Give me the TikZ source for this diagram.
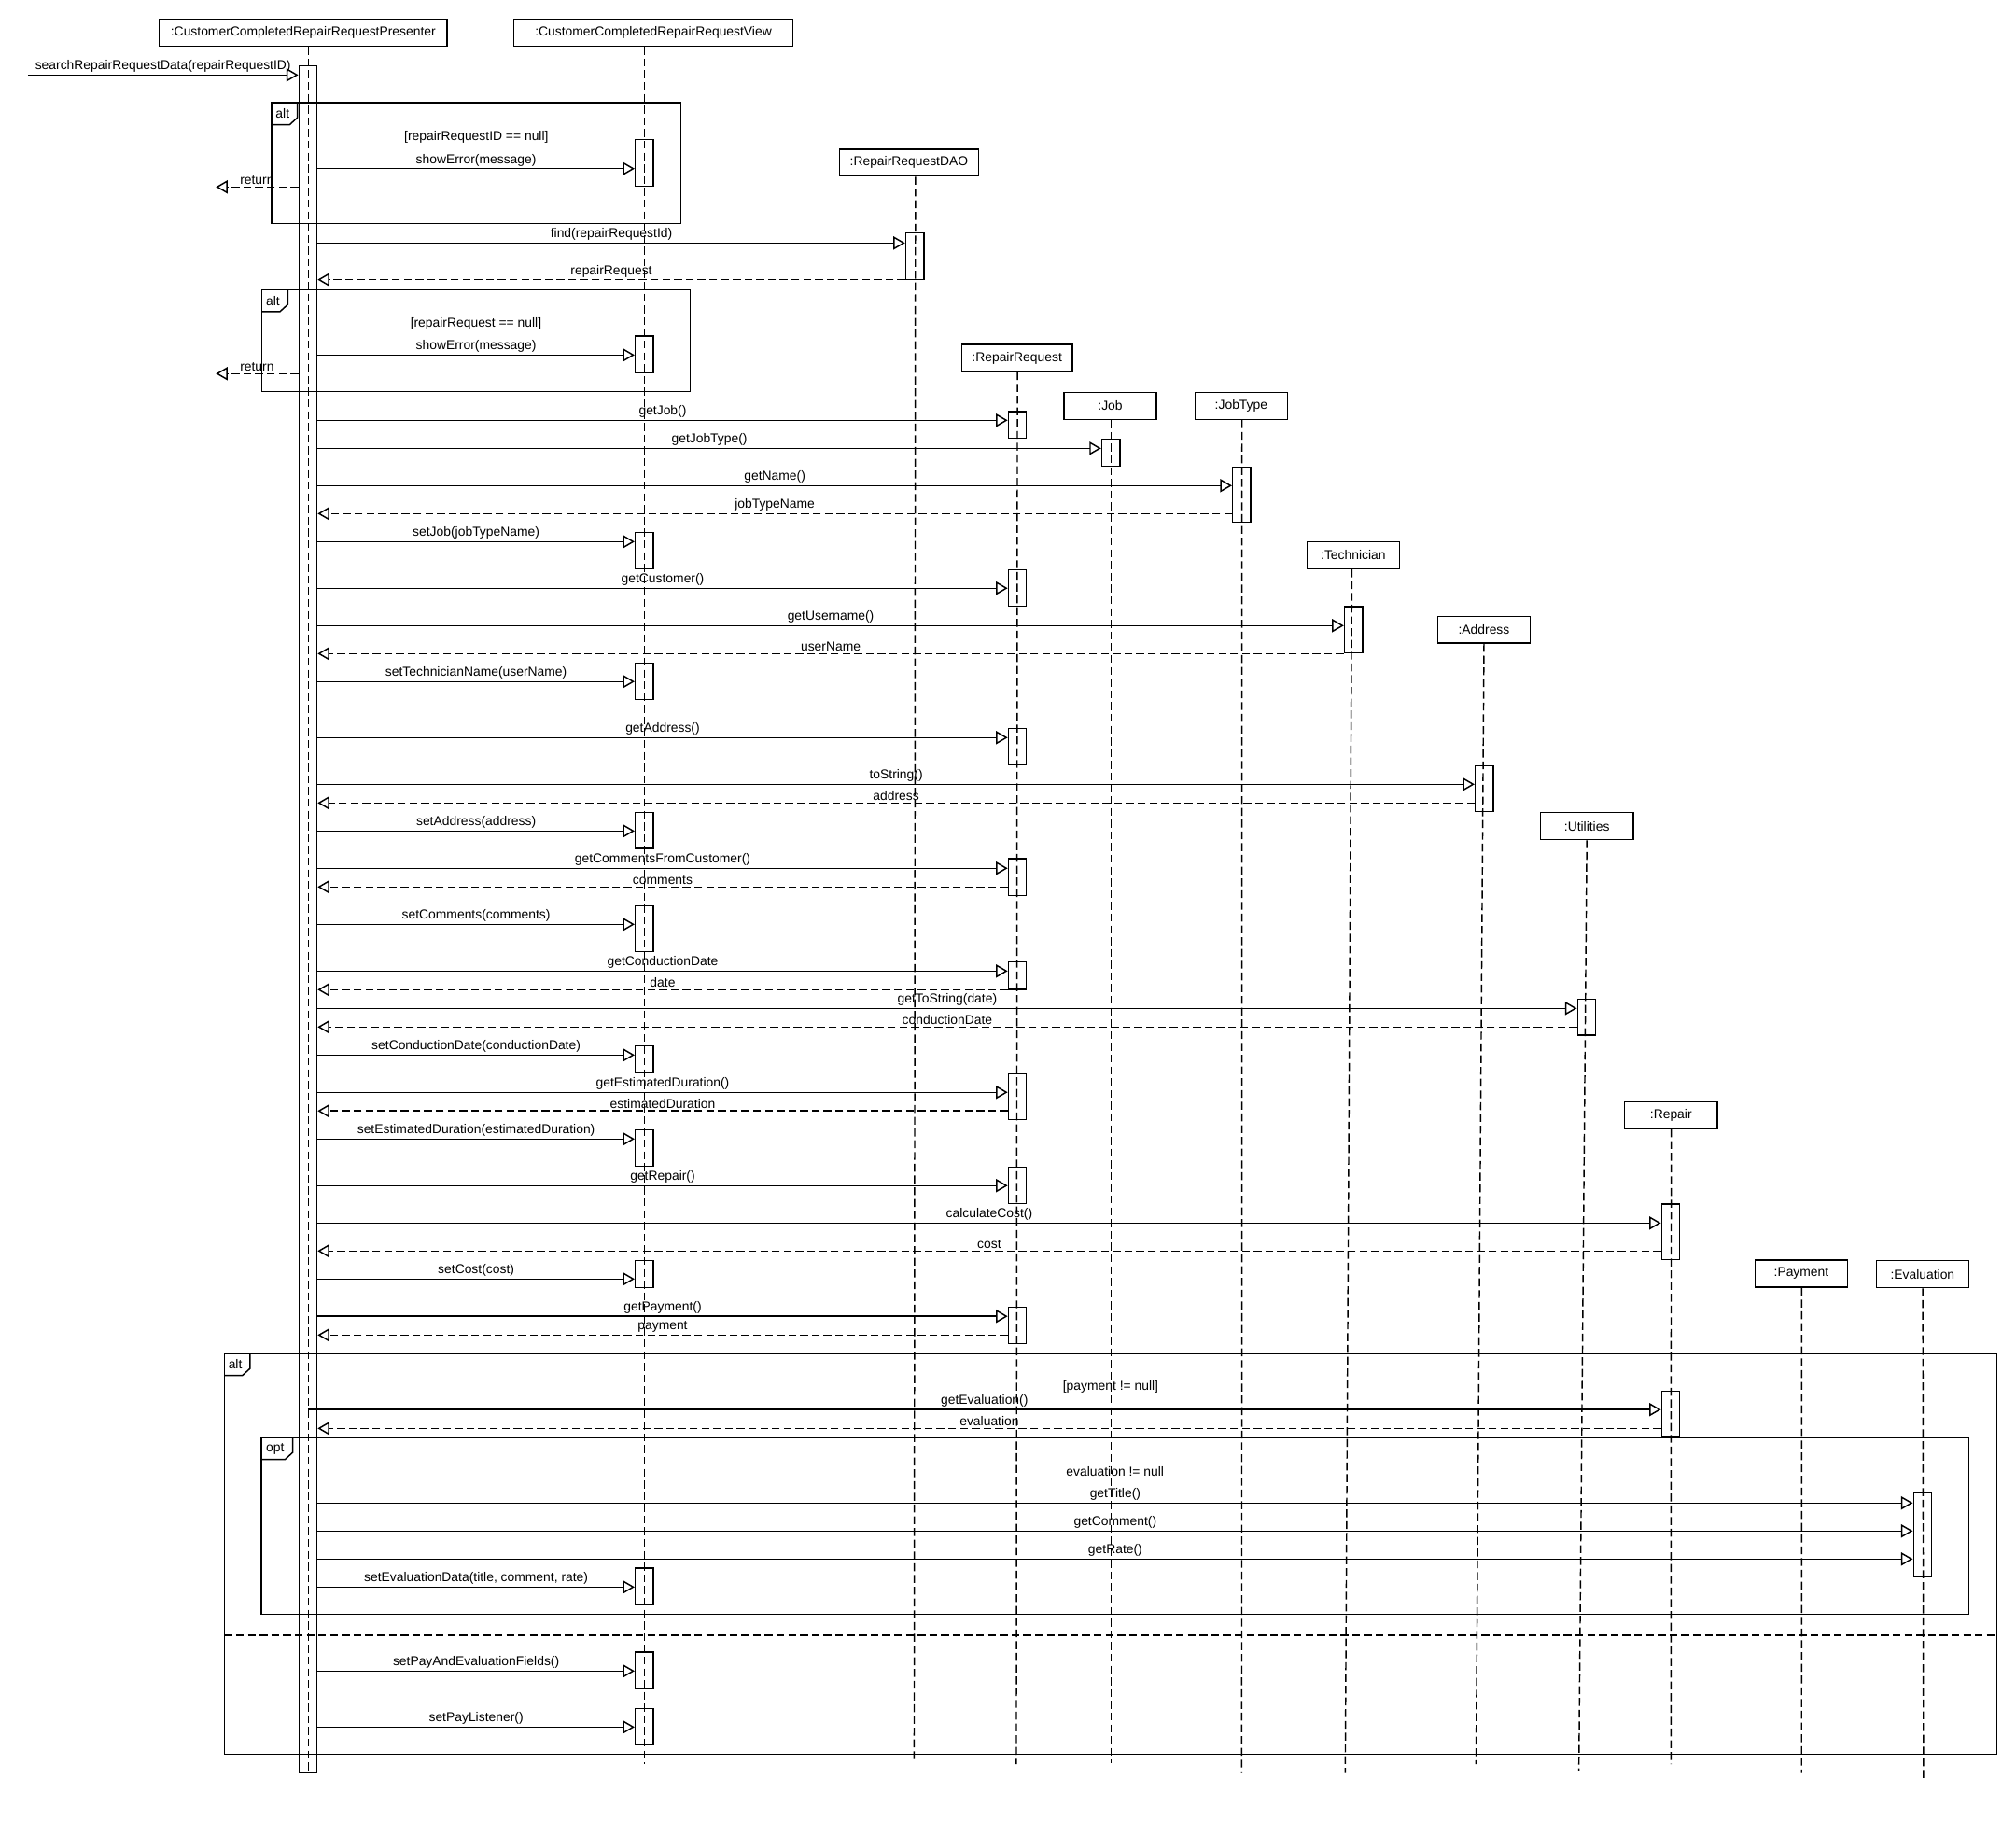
\documentclass[tikz,border=0pt]{standalone}
\usepackage{fontspec}
\setmainfont{Liberation Sans}
\usetikzlibrary{arrows.meta}
\tikzset{>={Triangle[open,length=3.9pt,width=4.4pt]}, % hollow UML message heads
obj/.style={draw, minimum width=#1*0.015cm, minimum height=0.315cm, inner sep=0pt}, % lifeline heads
obj/.default=72,
life/.style={dash pattern=on 2.6pt off 1.3pt}, % lifelines
act/.style={draw, minimum width=0.21cm, inner sep=0pt}, % activation bars
msg/.style={->},
ret/.style={->, dash pattern=on 2.6pt off 1.3pt}, % replies
lbl/.style={midway, above, inner sep=0.6pt},
guard/.style={inner sep=0pt},
}
% activation bar: name, x, top, bottom
\newcommand{\actbar}[4]{\node[act, minimum height={(#4-#3)*0.015cm}] (#1) at (#2,{(#3+#4)/2}) {};}
% call from the presenter bar / reply back to it
\newcommand{\callmsg}[3]{\draw[msg] (pact.east |- 0,#2) -- (#1.west |- 0,#2) node[lbl] {#3};}
\newcommand{\replymsg}[3]{\draw[ret] (#1.west |- 0,#2) -- (pact.east |- 0,#2) node[lbl] {#3};}
% combined fragment: x1, y1, x2, y2, tag width, tag text, tag name
\newcommand{\fragbox}[7]{\draw (#1,#2) rectangle (#3,#4);
  \draw (#1,#2+17) -- (#1+#5-6,#2+17) -- (#1+#5,#2+11.5) -- (#1+#5,#2);
  \node[guard] (#7) at ({#1+(#5-3)/2},#2+8.5) {#6};}

\begin{document}
\begin{tikzpicture}[x=0.015cm, y=-0.015cm, line width=0.45pt, font=\fontsize{4.3}{5}\selectfont]
    \useasboundingbox (0,0) rectangle (1568,1416);
    % heads
    \node[obj=224] (pres) at (235.8,25.5) {:CustomerCompletedRepairRequestPresenter};
    \node[obj=217] (view) at (508.2,25.5) {:CustomerCompletedRepairRequestView};
    \node[obj=108] (dao) at (707,126.5) {:RepairRequestDAO};
    \node[obj=86] (rreq) at (791,278.5) {:RepairRequest};
    \node[obj] (job) at (863.5,315.8) {:Job};
    \node[obj] (jtype) at (965.4,315.8) {:JobType};
    \node[obj] (tech) at (1052.5,431.9) {:Technician};
    \node[obj] (addr) at (1154.2,489.8) {:Address};
    \node[obj] (util) at (1234.2,642.5) {:Utilities};
    \node[obj] (repair) at (1299.6,867.3) {:Repair};
    \node[obj] (pay) at (1401,990.6) {:Payment};
    \node[obj] (eval) at (1495.3,991) {:Evaluation};
    \foreach \n/\xa/\xb/\yb in {pres/240/240/1378, view/501.3/501.3/1372, dao/712/711/1370,
      rreq/791.3/790.5/1372, job/864.2/864.2/1371, jtype/966/965.8/1379, tech/1051.5/1046.3/1379,
      addr/1154.2/1148/1372, util/1234.2/1228/1377, repair/1299.8/1299.6/1372,
      pay/1401.3/1401.2/1379, eval/1495.5/1496/1385}
      {\draw[life] (\n.south -| \xa,0) -- (\xb,\yb);}

    % activation bars
    \actbar{pact}{239.5}{51}{1378.7}
    \foreach \i/\t/\b in {1/108.5/145, 2/261.5/290, 3/414/442.3, 4/515.6/544, 5/632/660,
      6/704.6/740, 7/813.5/834.3, 8/878.6/907, 9/980.2/1001.3, 10/1219.7/1248,
      11/1285/1313.4, 12/1328.6/1357}
      {\actbar{va\i}{501.1}{\t}{\b}}
    \foreach \i/\t/\b in {1/320/340.7, 2/443/471.3, 3/566.4/594.7, 4/668/696.4, 5/748/769.5,
      6/835/870.6, 7/907.6/935.9, 8/1016.5/1044.8}
      {\actbar{ra\i}{791.3}{\t}{\b}}
    \actbar{da1}{711.5}{181}{217.5}
    \actbar{ja1}{864}{341.4}{362.5}
    \actbar{ta1}{965.7}{363.2}{406}
    \actbar{ka1}{1052.7}{472}{507.6}
    \actbar{aa1}{1154.4}{595.5}{631}
    \actbar{ua1}{1234}{777}{805}
    \actbar{pa1}{1299.4}{936.6}{979.5}
    \actbar{pa2}{1299.4}{1081.8}{1117.4}
    \actbar{ea1}{1495.3}{1161}{1226}

    % fragments
    \fragbox{211.3}{80}{529.6}{173.7}{20}{alt}{tag1}
    \fragbox{203.8}{225.3}{536.7}{304.4}{20}{alt}{tag2}
    \fragbox{174.5}{1052.8}{1553}{1364.2}{20}{alt}{tag3}
    \fragbox{203.3}{1118.1}{1531.2}{1255.3}{24.4}{opt}{tag4}
    \draw[dash pattern=on 2.6pt off 1.3pt] (174.5,1271.8) -- (1553,1271.8);
    \node[guard] (gd1) at (370.5,106.5) {[repairRequestID == null]};
    \node[guard] (gd2) at (370.2,251.6) {[repairRequest == null]};
    \node[guard] (gd3) at (863.8,1079) {[payment != null]};
    \node[guard] (gd4) at (867.3,1144.5) {evaluation != null};

    % messages
    \coordinate (src) at (21.7,58.3);
    \draw[msg] (src) -- (pact.west |- src) node[lbl] {searchRepairRequestData(repairRequestID)};
    \callmsg{va1}{131.2}{showError(message)}
    \coordinate (out1) at (167.9,145.4);
    \draw[ret] (pact.west |- out1) -- (out1) node[lbl] {return};
    \callmsg{da1}{189}{find(repairRequestId)}
    \replymsg{da1}{217.5}{repairRequest}
    \callmsg{va2}{276.1}{showError(message)}
    \coordinate (out2) at (167.9,290.6);
    \draw[ret] (pact.west |- out2) -- (out2) node[lbl] {return};
    \callmsg{ra1}{326.9}{getJob()}
    \callmsg{ja1}{348.7}{getJobType()}
    \callmsg{ta1}{377.7}{getName()}
    \replymsg{ta1}{399.5}{jobTypeName}
    \callmsg{va3}{421.3}{setJob(jobTypeName)}
    \callmsg{ra2}{457.5}{getCustomer()}
    \callmsg{ka1}{486.6}{getUsername()}
    \replymsg{ka1}{508.4}{userName}
    \callmsg{va4}{530.1}{setTechnicianName(userName)}
    \callmsg{ra3}{573.7}{getAddress()}
    \callmsg{aa1}{610}{toString()}
    \replymsg{aa1}{624.5}{address}
    \callmsg{va5}{646.3}{setAddress(address)}
    \callmsg{ra4}{675.3}{getCommentsFromCustomer()}
    \replymsg{ra4}{689.8}{comments}
    \callmsg{va6}{718.9}{setComments(comments)}
    \callmsg{ra5}{755.2}{getConductionDate}
    \replymsg{ra5}{769.7}{date}
    \callmsg{ua1}{784.2}{getToString(date)}
    \replymsg{ua1}{798.7}{conductionDate}
    \callmsg{va7}{820.5}{setConductionDate(conductionDate)}
    \callmsg{ra6}{849.5}{getEstimatedDuration()}
    \replymsg{ra6}{864}{estimatedDuration}
    \callmsg{va8}{885.8}{setEstimatedDuration(estimatedDuration)}
    \callmsg{ra7}{922.1}{getRepair()}
    \callmsg{pa1}{951.2}{calculateCost()}
    \replymsg{pa1}{972.9}{cost}
    \callmsg{va9}{994.7}{setCost(cost)}
    \callmsg{ra8}{1023.7}{getPayment()}
    \replymsg{ra8}{1038.3}{payment}
    \draw[msg] (pact.center |- 0,1096.3) -- (pa2.west |- 0,1096.3) node[lbl] {getEvaluation()};
    \replymsg{pa2}{1110.9}{evaluation}
    \callmsg{ea1}{1168.9}{getTitle()}
    \callmsg{ea1}{1190.7}{getComment()}
    \callmsg{ea1}{1212.5}{getRate()}
    \callmsg{va10}{1234.3}{setEvaluationData(title, comment, rate)}
    \callmsg{va11}{1299.6}{setPayAndEvaluationFields()}
    \callmsg{va12}{1343.2}{setPayListener()}
\end{tikzpicture}
\end{document}
